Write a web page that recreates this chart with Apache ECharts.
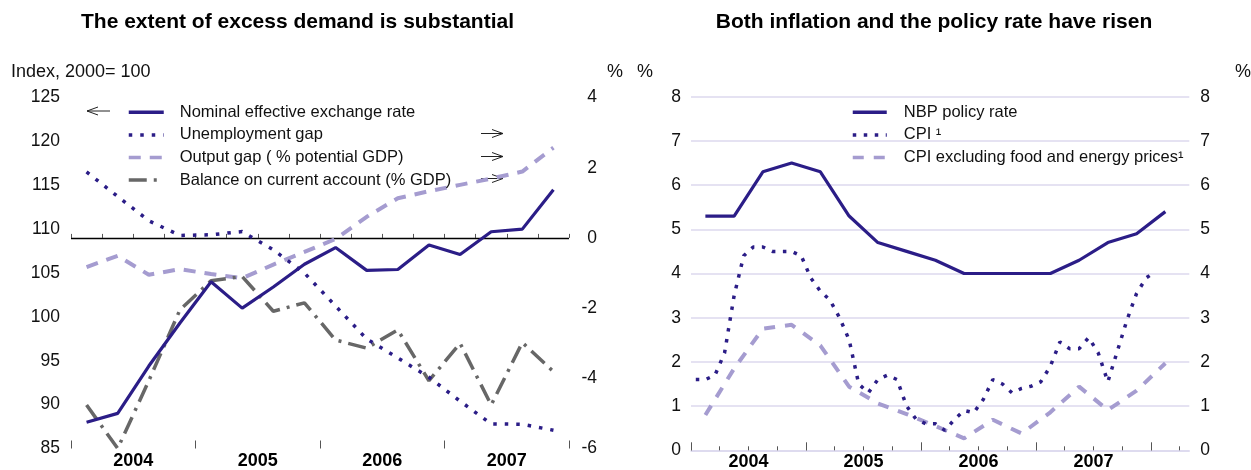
<!DOCTYPE html>
<html><head><meta charset="utf-8">
<script src="https://cdn.jsdelivr.net/npm/echarts@6/dist/echarts.min.js"></script>
<style>html,body{margin:0;padding:0;background:#fff}#c{width:1251px;height:470px}</style>
</head><body><div id="c"></div>
<script>
// ---------------- DATA ----------------
// Left panel: quarterly, 2004Q1 .. 2007Q4
const leftQuarters = ['2004Q1','2004Q2','2004Q3','2004Q4','2005Q1','2005Q2','2005Q3','2005Q4',
                      '2006Q1','2006Q2','2006Q3','2006Q4','2007Q1','2007Q2','2007Q3','2007Q4'];
const leftYearLabels = ['2004','2005','2006','2007'];
const neer = [88.0, 89.0, 94.4, 99.3, 104.0, 101.0, 103.4, 106.0, 107.9, 105.3, 105.4, 108.2, 107.1, 109.7, 110.0, 114.5];
const unemploymentGap = [1.88, 1.18, 0.49, 0.07, 0.09, 0.18, -0.34, -1.0, -1.94, -2.88, -3.42, -3.97, -4.65, -5.3, -5.31, -5.48];
const outputGap = [-0.83, -0.51, -1.05, -0.89, -1.03, -1.15, -0.76, -0.4, -0.03, 0.6, 1.13, 1.33, 1.51, 1.69, 1.89, 2.57];
const currentAccount = [-4.76, -6.0, -4.07, -2.05, -1.22, -1.1, -2.09, -1.85, -2.91, -3.14, -2.62, -4.07, -3.0, -4.76, -2.98, -3.81];

// Right panel: months from Jan 2004 (axis runs Jan 2004 .. Apr 2008)
const rightYearLabels = ['2004','2005','2006','2007'];
const policyQuarters = ['2004Q1','2004Q2','2004Q3','2004Q4','2005Q1','2005Q2','2005Q3','2005Q4',
                        '2006Q1','2006Q2','2006Q3','2006Q4','2007Q1','2007Q2','2007Q3','2007Q4','2008Q1'];
const policyRate = [5.3, 5.3, 6.3, 6.5, 6.3, 5.3, 4.7, 4.5, 4.3, 4.0, 4.0, 4.0, 4.0, 4.3, 4.7, 4.9, 5.4];
const coreCpi = [0.8, 1.85, 2.75, 2.84, 2.37, 1.44, 1.06, 0.82, 0.55, 0.27, 0.69, 0.38, 0.86, 1.44, 0.91, 1.35, 1.97];
// monthly CPI Jan 2004 .. Jan 2008
const cpi = [1.6, 1.6, 1.7, 2.2, 3.5, 4.4, 4.6, 4.6, 4.5, 4.5, 4.5, 4.4,
             3.9, 3.6, 3.4, 3.0, 2.5, 1.5, 1.3, 1.6, 1.7, 1.6, 1.0, 0.7,
             0.6, 0.6, 0.45, 0.7, 0.9, 0.85, 1.15, 1.6, 1.5, 1.3, 1.4, 1.45,
             1.55, 1.9, 2.45, 2.3, 2.3, 2.55, 2.2, 1.55, 2.25, 2.95, 3.55, 3.9,
             4.05];

const leftNames = ['Nominal effective exchange rate','Unemployment gap','Output gap ( % potential GDP)','Balance on current account (% GDP)'];
const rightNames = ['NBP policy rate','CPI \u00b9','CPI excluding food and energy prices\u00b9'];

// ---------------- STYLE ----------------
const FONT = "'Liberation Sans', Arial, Helvetica, sans-serif";
const NAVY = '#2b1d87';
const LAV = '#a59cd0';
const GRAY = '#676767';
const GRID = '#dcd9ee';
const TICK = '#555';

const chart = echarts.init(document.getElementById('c'), null, {renderer: 'canvas'});

const quarterX = i => i + 0.5;          // left panel: quarter centre
const monthX = k => k + 0.5;            // right panel: month centre
const rqX = q => 3 * q + 1.5;           // right panel: quarter centre (middle month)

const monthsTotal = 52;
const minorTicksR = []; for (let m = 0; m < monthsTotal; m += 3) minorTicksR.push(m);
const majorTicksR = []; for (let m = 0; m < monthsTotal; m += 12) majorTicksR.push(m);
const labelTicksR = rightYearLabels.map((_, i) => 12 * i + 6);

const hidden = {show: false};
const lbl = {fontFamily: FONT, fontSize: 17.5, color: '#111'};

function arrow(x1, x2, y, dirLeft) {
  const tip = dirLeft ? x1 : x2;
  const d = dirLeft ? 11 : -11;
  return [
    {type: 'line', shape: {x1: x1, y1: y, x2: x2, y2: y}, style: {stroke: '#222', lineWidth: 1}},
    {type: 'polyline', shape: {points: [[tip + d, y - 4], [tip, y], [tip + d, y + 4]]}, style: {stroke: '#222', lineWidth: 1, fill: null}}
  ];
}

const legendCommon = {orient: 'vertical', itemHeight: 14, itemGap: 0, selectedMode: false, padding: 0,
  itemStyle: {opacity: 0}, lineStyle: {width: 3.5}};

const option = {
  animation: false,
  backgroundColor: '#fff',
  title: [
    {text: 'The extent of excess demand is substantial', left: 297.5, top: 12, textAlign: 'center', padding: 0,
     textStyle: {fontFamily: FONT, fontSize: 21, fontWeight: 'bold', color: '#000'}},
    {text: 'Both inflation and the policy rate have risen', left: 934, top: 12, textAlign: 'center', padding: 0,
     textStyle: {fontFamily: FONT, fontSize: 21, fontWeight: 'bold', color: '#000'}}
  ],
  grid: [
    {left: 71, top: 97.5, width: 498, height: 351, outerBoundsMode: 'none', containLabel: false},
    {left: 691, top: 96.7, width: 498.3, height: 353.6, outerBoundsMode: 'none', containLabel: false}
  ],
  legend: [
    Object.assign({data: leftNames, left: 127, top: 101, itemWidth: 35,
     textStyle: {fontFamily: FONT, fontSize: 16.5, color: '#111', lineHeight: 22.6, padding: [0, 0, 0, 11]}}, legendCommon),
    Object.assign({data: rightNames, left: 851, top: 101, itemWidth: 34,
     textStyle: {fontFamily: FONT, fontSize: 16.5, color: '#111', lineHeight: 22.6, padding: [0, 0, 0, 12]}}, legendCommon)
  ],
  xAxis: [
    // left panel: minor ticks
    {gridIndex: 0, type: 'value', position: 'bottom', min: 0, max: 16, interval: 1, axisLine: hidden, splitLine: hidden,
     axisLabel: hidden, axisTick: {show: true, inside: true, length: 4, lineStyle: {color: TICK, width: 1}}},
    // left panel: major ticks
    {gridIndex: 0, type: 'value', position: 'bottom', min: 0, max: 16, interval: 4, axisLine: hidden, splitLine: hidden,
     axisLabel: hidden, axisTick: {show: true, inside: true, length: 8, lineStyle: {color: TICK, width: 1}}},
    // left panel: year labels
    {gridIndex: 0, type: 'value', position: 'bottom', min: 0, max: 16, interval: 2, axisLine: hidden, splitLine: hidden, axisTick: hidden,
     axisLabel: {show: true, margin: 4, fontFamily: FONT, fontSize: 18, fontWeight: 'bold', color: '#000',
       formatter: v => (v % 4 === 2) ? leftYearLabels[(v - 2) / 4] : ''}},
    // right panel: minor ticks + axis line
    {gridIndex: 1, type: 'value', position: 'bottom', min: 0, max: monthsTotal, axisLine: {show: true, lineStyle: {color: GRID, width: 1.5}},
     splitLine: hidden, axisLabel: hidden,
     axisTick: {show: true, inside: true, length: 4, customValues: minorTicksR, lineStyle: {color: TICK, width: 1}}},
    // right panel: major ticks
    {gridIndex: 1, type: 'value', position: 'bottom', min: 0, max: monthsTotal, axisLine: hidden, splitLine: hidden, axisLabel: hidden,
     axisTick: {show: true, inside: true, length: 8, customValues: majorTicksR, lineStyle: {color: TICK, width: 1}}},
    // right panel: year labels
    {gridIndex: 1, type: 'value', position: 'bottom', min: 0, max: monthsTotal, axisLine: hidden, splitLine: hidden, axisTick: hidden,
     axisLabel: {show: true, margin: 2.5, customValues: labelTicksR, fontFamily: FONT, fontSize: 18, fontWeight: 'bold', color: '#000',
       formatter: v => rightYearLabels[Math.round((v - 6) / 12)]}}
  ],
  yAxis: [
    {gridIndex: 0, type: 'value', position: 'left', min: 85, max: 125, interval: 5,
     axisLine: hidden, axisTick: hidden, splitLine: hidden, axisLabel: Object.assign({margin: 11}, lbl)},
    {gridIndex: 0, type: 'value', position: 'right', min: -6, max: 4, interval: 2,
     axisLine: hidden, axisTick: hidden, splitLine: hidden, axisLabel: Object.assign({margin: 28, align: 'right'}, lbl)},
    {gridIndex: 1, type: 'value', position: 'left', min: 0, max: 8, interval: 1,
     axisLine: hidden, axisTick: hidden, splitLine: {show: true, lineStyle: {color: GRID, width: 1.5}},
     axisLabel: Object.assign({margin: 10}, lbl)},
    {gridIndex: 1, type: 'value', position: 'right', min: 0, max: 8, interval: 1,
     axisLine: hidden, axisTick: hidden, splitLine: hidden, axisLabel: Object.assign({margin: 11}, lbl)}
  ],
  series: [
    {name: leftNames[2], type: 'line', xAxisIndex: 0, yAxisIndex: 1, symbol: 'none', z: 2,
     data: outputGap.map((v, i) => [quarterX(i), v]),
     lineStyle: {color: LAV, width: 4, type: [12, 9]}, itemStyle: {color: LAV}},
    {name: leftNames[3], type: 'line', xAxisIndex: 0, yAxisIndex: 1, symbol: 'none', z: 3,
     data: currentAccount.map((v, i) => [quarterX(i), v]),
     lineStyle: {color: GRAY, width: 3.5, type: [18, 7, 3, 7]}, itemStyle: {color: GRAY}},
    {name: leftNames[1], type: 'line', xAxisIndex: 0, yAxisIndex: 1, symbol: 'none', z: 4,
     data: unemploymentGap.map((v, i) => [quarterX(i), v]),
     lineStyle: {color: NAVY, width: 3.5, type: [3.5, 8]}, itemStyle: {color: NAVY},
     markLine: {silent: true, symbol: 'none', label: hidden, z: 1,
       lineStyle: {color: '#000', width: 1.3, type: 'solid'}, data: [{yAxis: 0}]}},
    {name: leftNames[0], type: 'line', xAxisIndex: 0, yAxisIndex: 0, symbol: 'none', z: 5,
     data: neer.map((v, i) => [quarterX(i), v]),
     lineStyle: {color: NAVY, width: 3.2, type: 'solid'}, itemStyle: {color: NAVY}},

    {name: rightNames[2], type: 'line', xAxisIndex: 3, yAxisIndex: 2, symbol: 'none', z: 2,
     data: coreCpi.map((v, q) => [rqX(q), v]),
     lineStyle: {color: LAV, width: 4, type: [11, 10]}, itemStyle: {color: LAV}},
    {name: rightNames[1], type: 'line', xAxisIndex: 3, yAxisIndex: 2, symbol: 'none', z: 3,
     data: cpi.map((v, k) => [monthX(k), v]),
     lineStyle: {color: NAVY, width: 3.5, type: [3.5, 7.5]}, itemStyle: {color: NAVY}},
    {name: rightNames[0], type: 'line', xAxisIndex: 3, yAxisIndex: 2, symbol: 'none', z: 4,
     data: policyRate.map((v, q) => [rqX(q), v]),
     lineStyle: {color: NAVY, width: 3.2, type: 'solid'}, itemStyle: {color: NAVY}}
  ],
  graphic: [
    {type: 'text', left: 11, top: 63, style: {text: 'Index, 2000= 100', fontFamily: FONT, fontSize: 18, fill: '#111'}},
    {type: 'text', left: 607, top: 63, style: {text: '%', fontFamily: FONT, fontSize: 18, fill: '#111'}},
    {type: 'text', left: 637, top: 63, style: {text: '%', fontFamily: FONT, fontSize: 18, fill: '#111'}},
    {type: 'text', left: 1235, top: 63, style: {text: '%', fontFamily: FONT, fontSize: 18, fill: '#111'}}
  ].concat(arrow(87, 110, 111, true), arrow(481, 503, 133.5, false), arrow(481, 503, 156.5, false), arrow(481, 503, 178.5, false))
};

chart.setOption(option);
</script>
</body></html>
